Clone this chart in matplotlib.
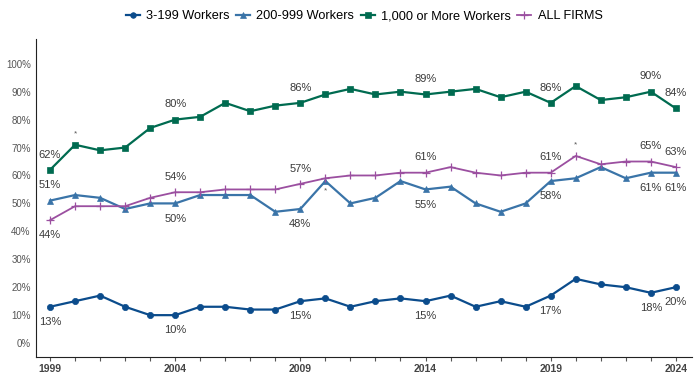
import matplotlib
matplotlib.use("Agg")
import matplotlib.pyplot as plt

plt.rcParams["font.family"] = ["Liberation Sans", "DejaVu Sans"]

years = list(range(1999, 2025))
small = [13, 15, 17, 13, 10, 10, 13, 13, 12, 12, 15, 16, 13, 15, 16, 15, 17, 13, 15, 13, 17, 23, 21, 20, 18, 20]
mid = [51, 53, 52, 48, 50, 50, 53, 53, 53, 47, 48, 58, 50, 52, 58, 55, 56, 50, 47, 50, 58, 59, 63, 59, 61, 61]
large = [62, 71, 69, 70, 77, 80, 81, 86, 83, 85, 86, 89, 91, 89, 90, 89, 90, 91, 88, 90, 86, 92, 87, 88, 90, 84]
allf = [44, 49, 49, 49, 52, 54, 54, 55, 55, 55, 57, 59, 60, 60, 61, 61, 63, 61, 60, 61, 61, 67, 64, 65, 65, 63]

tick_years = [1999, 2004, 2009, 2014, 2019, 2024]
label_years = [1999, 2004, 2009, 2014, 2019, 2023, 2024]
# which side the value label goes: +1 above, -1 below
small_side = [-1, -1, -1, -1, -1, -1, -1]
mid_side = [1, -1, -1, -1, -1, -1, -1]
large_side = [1, 1, 1, 1, 1, 1, 1]
all_side = [-1, 1, 1, 1, 1, 1, 1]

# (year, value, side) for significance asterisks
stars = [(2000, 71, 1), (2010, 58, -1), (2020, 67, 1)]

series = [
    ("3-199 Workers", small, "#0b4c8c", "o", small_side),
    ("200-999 Workers", mid, "#3a74a8", "^", mid_side),
    ("1,000 or More Workers", large, "#006b50", "s", large_side),
    ("ALL FIRMS", allf, "#9b4fa0", "+", all_side),
]

fig, ax = plt.subplots(figsize=(6.97, 3.86), dpi=100)
fig.subplots_adjust(left=0.052, right=0.993, top=0.9, bottom=0.075)

for name, vals, col, mk, sides in series:
    plus = mk == "+"
    ax.plot(years, vals, color=col, lw=1.3 if plus else 1.6, marker=mk,
            ms=6 if plus else 4.5, mew=0.9 if plus else 0.5, label=name)
    for y, s in zip(label_years, sides):
        v = vals[years.index(y)]
        ax.annotate(f"{v}%", (y, v), xytext=(0, 11 * s), textcoords="offset points",
                    ha="center", va="center", fontsize=8, color="#3a3a3a")

for y, v, s in stars:
    ax.annotate("*", (y, v), xytext=(0, 8 * s + (1 if s < 0 else 0)), textcoords="offset points",
                ha="center", va="center", fontsize=6, color="#555555")

ax.set_xlim(1998.45, 2024.65)
ax.set_ylim(-5, 109)
ax.set_yticks(range(0, 101, 10))
ax.set_yticklabels([f"{t}%" for t in range(0, 101, 10)], fontsize=7, color="#555555")
ax.set_xticks(years)
ax.set_xticklabels([str(y) if y in tick_years else "" for y in years],
                   fontsize=7.5, fontweight="bold", color="#444444")
ax.tick_params(axis="y", length=0, pad=4)
ax.tick_params(axis="x", length=3, color="#555555", pad=2)
for sp in ["top", "right"]:
    ax.spines[sp].set_visible(False)
ax.spines["left"].set_color("#222222")
ax.spines["bottom"].set_color("#222222")

ax.legend(loc="lower center", bbox_to_anchor=(0.5, 1.035), ncol=4, frameon=False,
          fontsize=9.2, handlelength=1.1, handletextpad=0.5, columnspacing=0.5,
          borderaxespad=0, markerscale=0.9)

fig.savefig("out.png", dpi=100)
